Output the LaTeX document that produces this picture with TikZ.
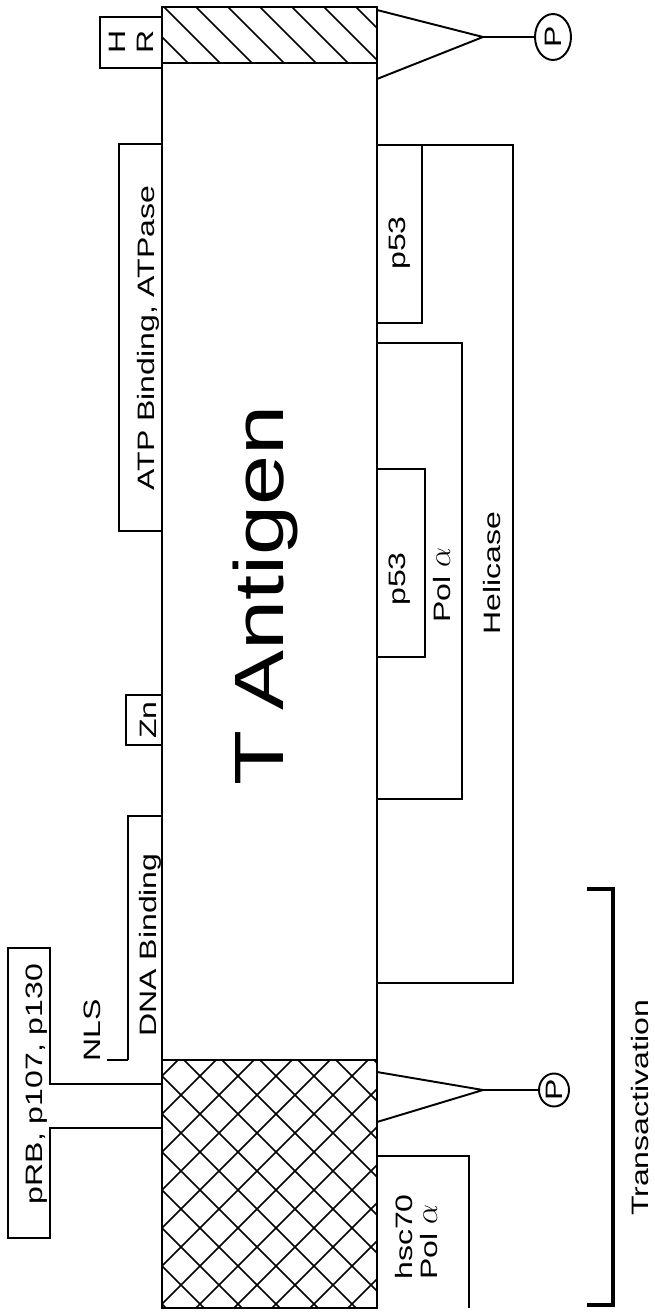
\documentclass[tikz,border=0pt]{standalone}
\usepackage{fontspec}
\setmainfont{Liberation Sans}[FakeStretch=1.35]
\newfontfamily\titlefont{Liberation Sans}[FakeStretch=1.29]
\usetikzlibrary{shapes.geometric}
\tikzset{
  domainline/.style={line width=1.1pt, line join=miter},
  bracketline/.style={line width=2pt},
  hatchline/.style={line width=0.9pt},
  domainlabel/.style={
    rotate=90, anchor=base, inner sep=0pt,
    font=\fontsize{13.5}{16}\selectfont
  },
  startlabel/.style={domainlabel, anchor=base west},
  titlelabel/.style={
    rotate=90, anchor=base, inner sep=0pt,
    font=\titlefont\fontsize{39.7}{40}\selectfont
  },
  phosnode/.style={
    ellipse, draw, line width=1.1pt, inner sep=0pt,
    font=\fontsize{13.5}{16}\selectfont
  },
}
\newcommand{\polalpha}{Pol \scalebox{1.25}{$\alpha$}}

\begin{document}
\begin{tikzpicture}[x=0.02cm, y=-0.02cm]
  \useasboundingbox (0,0) rectangle (654,1312);

  % Hatched end (C terminus)
  \begin{scope}
    \clip (162,7) rectangle (377,63);
    \foreach \k in {100,132,...,400}
      \draw[hatchline] (\k,7) -- ++(56,56);
  \end{scope}

  % Cross-hatched end (N terminus)
  \begin{scope}
    \clip (162,1060) rectangle (377,1308);
    \foreach \k in {-120,-82,...,400} {
      \draw[hatchline] (\k,1060) -- ++(260,260);
      \draw[hatchline] (\k,1320) -- ++(260,-260);
    }
  \end{scope}

  % T antigen bar
  \draw[domainline] (162,7) rectangle (377,1308);
  \draw[domainline] (162,63) -- (377,63);
  \draw[domainline] (162,1060) -- (377,1060);
  \node[titlelabel] (tag) at (283,595) {T\hspace{0.4cm}Antigen};

  % Domains, left side
  \draw[domainline] (162,17) -| (100,68) -- (162,68);
  \node[domainlabel, anchor=center, align=center] (hr) at (131,42) {H\\R};

  \draw[domainline] (162,144) -| (119,531) -- (162,531);
  \node[domainlabel] (atp) at (154,338) {ATP Binding, ATPase};

  \draw[domainline] (162,695) -| (126,745) -- (162,745);
  \node[domainlabel] (zn) at (156,720) {Zn};

  \draw[domainline] (162,816) -| (128,1060);
  \node[domainlabel] (dna) at (156,945) {DNA Binding};

  \node[domainlabel] (nls) at (100,1030) {NLS};
  \draw[domainline] (107,1060) -- (128,1060);

  \draw[domainline] (162,1084) -- (50,1084) -- (50,948) -- (8,948)
    -- (8,1238) -- (50,1238) -- (50,1128) -- (162,1128);
  \node[domainlabel] (prb) at (42,1084) {pRB, p107, p130};

  % Binding regions, right side
  \draw[domainline] (377,145) -| (422,323) -- (377,323);
  \node[domainlabel] (p53a) at (405,243) {p53};

  \draw[domainline] (422,145) -| (513,983) -- (377,983);
  \node[domainlabel] (helicase) at (500,573) {Helicase};

  \draw[domainline] (377,343) -| (462,799) -- (377,799);
  \node[domainlabel] (pola) at (450,585) {\polalpha};

  \draw[domainline] (377,469) -| (425,657) -- (377,657);
  \node[domainlabel] (p53b) at (405,579) {p53};

  \draw[domainline] (377,1156) -| (469,1308);
  \node[startlabel] (hsc) at (412,1280) {hsc70};
  \node[startlabel] (polb) at (437,1280) {\polalpha};

  % Phosphorylation sites
  \coordinate (apexC) at (483,37);
  \draw[domainline] (377,10) -- (apexC) -- (377,79);
  \node[phosnode, minimum width=0.72cm, minimum height=0.92cm]
    (phosC) at (553,37) {\rotatebox{90}{P}};
  \draw[domainline] (apexC) -- (phosC);

  \coordinate (apexN) at (483,1090);
  \draw[domainline] (377,1072) -- (apexN) -- (377,1122);
  \node[phosnode, minimum width=0.6cm, minimum height=0.66cm]
    (phosN) at (554,1090) {\rotatebox{90}{P}};
  \draw[domainline] (apexN) -- (phosN);

  % Transactivation bracket
  \draw[bracketline] (587,889) -| (613,1305) -- (587,1305);
  \node[domainlabel] (trans) at (648,1108) {Transactivation};
\end{tikzpicture}
\end{document}
